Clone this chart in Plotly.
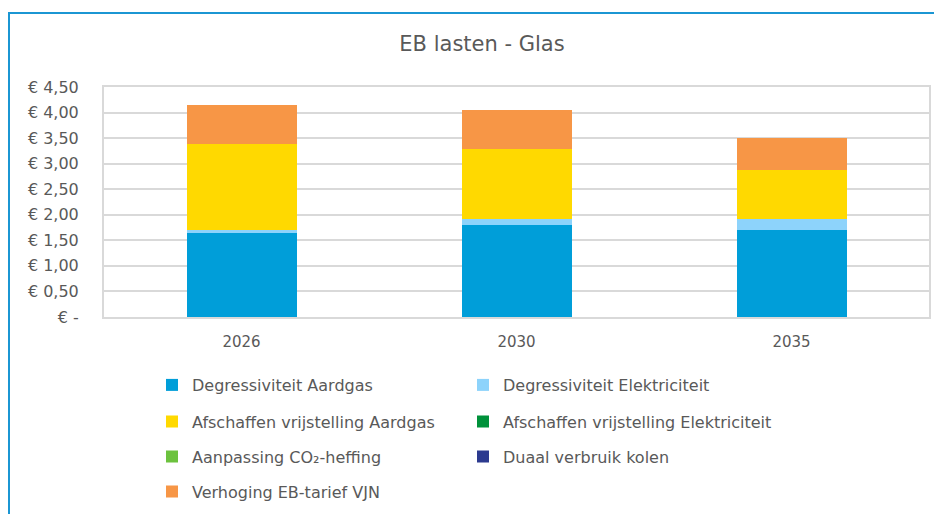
import plotly.graph_objects as go

# data
years = ["2026", "2030", "2035"]
degr_aardgas = [1.645, 1.795, 1.705]
degr_elek = [0.065, 0.13, 0.22]
afsch_aardgas = [1.68, 1.36, 0.945]
afsch_elek = [0, 0, 0]
co2_heffing = [0, 0, 0]
duaal_kolen = [0, 0, 0]
verhoging_vjn = [0.75, 0.765, 0.63]

y_ticks = [0, 0.5, 1, 1.5, 2, 2.5, 3, 3.5, 4, 4.5]
y_ticktext = ["€ -", "€ 0,50", "€ 1,00", "€ 1,50", "€ 2,00",
              "€ 2,50", "€ 3,00", "€ 3,50", "€ 4,00", "€ 4,50"]

series = [
    ("Degressiviteit Aardgas", degr_aardgas, "#009ed9", "legend"),
    ("Degressiviteit Elektriciteit", degr_elek, "#8dd3fb", "legend"),
    ("Afschaffen vrijstelling Aardgas", afsch_aardgas, "#ffd900", "legend2"),
    ("Afschaffen vrijstelling Elektriciteit", afsch_elek, "#00913a", "legend2"),
    ("Aanpassing CO₂-heffing", co2_heffing, "#6cc23e", "legend3"),
    ("Duaal verbruik kolen", duaal_kolen, "#2c3a8f", "legend3"),
    ("Verhoging EB-tarief VJN", verhoging_vjn, "#f79646", "legend4"),
]

FONT = "DejaVu Sans"
GREY = "#595959"

fig = go.Figure()
for name, vals, color, lg in series:
    fig.add_trace(go.Bar(x=years, y=vals, name=name, marker_color=color,
                         marker_line_width=0, legend=lg))

# page body adds an 8px offset; target screen positions are shifted back
OFF = 8
W, H = 942, 514
# plot area on screen: x 104..929, y 87..317
L, T = 104 - OFF, 87 - OFF
R, B = W - (929 - OFF), H - (317 - OFF)
pw, ph = W - L - R, H - T - B


def px_x(p):
    return (p - OFF - L) / pw


def px_y(p):
    return (H - B - (p - OFF)) / ph


leg_common = dict(orientation="h", xanchor="left", yanchor="middle",
                  x=px_x(152), entrywidth=266, entrywidthmode="pixels",
                  traceorder="normal",
                  font=dict(family=FONT, size=16, color=GREY),
                  bgcolor="rgba(0,0,0,0)")
rows = [385, 421.5, 456.5, 491.5]

fig.update_layout(
    width=W, height=H,
    margin=dict(l=L, r=R, t=T, b=B),
    paper_bgcolor="white", plot_bgcolor="white",
    barmode="stack", bargap=0.6,
    title=dict(text="EB lasten - Glas", x=(482 - OFF) / W, xanchor="center",
               y=1 - (44 - OFF) / H, yanchor="middle",
               font=dict(family=FONT, size=21, color=GREY)),
    font=dict(family=FONT, color=GREY),
    legend=dict(leg_common, y=px_y(rows[0])),
    legend2=dict(leg_common, y=px_y(rows[1])),
    legend3=dict(leg_common, y=px_y(rows[2])),
    legend4=dict(leg_common, y=px_y(rows[3])),
)

fig.update_yaxes(range=[0, 4.5], tickvals=y_ticks, ticktext=y_ticktext,
                 showgrid=True, gridcolor="#d9d9d9", gridwidth=2,
                 showline=True, linecolor="#d9d9d9", linewidth=2, mirror=True,
                 zeroline=False, ticklabelstandoff=20,
                 tickfont=dict(family=FONT, size=16, color=GREY))
fig.update_xaxes(showline=True, linecolor="#d9d9d9", linewidth=2, mirror=True,
                 ticklabelstandoff=10,
                 tickfont=dict(family=FONT, size=15, color=GREY))

# outer chart frame
fig.add_shape(type="rect", xref="paper", yref="paper",
              x0=px_x(9), x1=px_x(1100), y0=px_y(700), y1=px_y(13),
              line=dict(color="#1b96d3", width=2), layer="below")

fig.write_html("out.html")
